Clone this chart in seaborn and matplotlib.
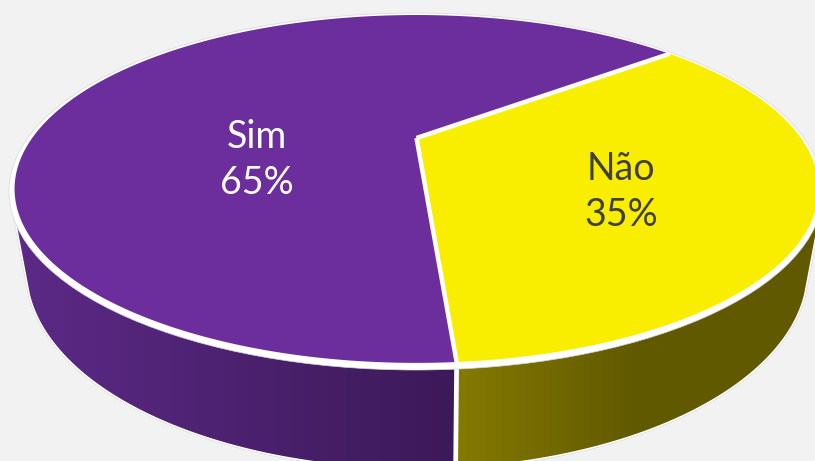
import numpy as np
import matplotlib
matplotlib.use("Agg")
import matplotlib.pyplot as plt
from matplotlib.patches import Ellipse, Polygon
import seaborn as sns

labels = ["Não", "Sim"]
values = [34.6, 65.4]
top_colors = ["#FAEE00", "#6C2E9C"]
text_colors = ["#404040", "#FFFFFF"]
label_pos = [(621, 192), (257, 160)]
wall_stops = [["#857A00", "#605900"], ["#5C2A87", "#3C1958"]]

BG = "#F2F2F2"
START = 38.8
W, H = 815, 461

sns.set_theme(style="white")
plt.rcParams["font.family"] = ["Lato", "DejaVu Sans"]

# perspective disc, fitted to the top face (y px goes down)
CX, CY, A, B, K = 416.5, 138.0, 384.3, 159.0, 0.293


def project(deg):
    t = np.radians(deg)
    u, v = np.cos(t), np.sin(t)
    w = 1 + K * v
    return CX + A * u / w, CY - B * v / w


def arc(d0, d1, n=400):
    return np.column_stack(project(np.linspace(d0, d1, n)))


def ellipse_pts(cx, cy, rx, ry, d0, d1, n=300):
    t = np.radians(np.linspace(d0, d1, n))
    return np.column_stack([cx + rx * np.cos(t), cy - ry * np.sin(t)])


fig, ax = plt.subplots(figsize=(W / 100, H / 100), dpi=100)
fig.patch.set_facecolor(BG)
ax.set_position([0, 0, 1, 1])
ax.set_xlim(0, W)
ax.set_ylim(H, 0)
ax.axis("off")

# slice angles from the data, clockwise from START
angles = [START]
for v in values:
    angles.append(angles[-1] - v / sum(values) * 360)
split_x, split_y = project(angles[1])

# side wall silhouette: bottom rim + straight sides up to the top ellipse
rim = ellipse_pts(417, 270, 390, 198, -7, -173)
right_top, left_top = (821, 205), (13, 205)
wall = np.vstack([[right_top], rim, [left_top]])
ax.add_patch(Polygon(wall, closed=True, fc="none", ec="#CFCFCF", lw=3.0, zorder=1))
ax.add_patch(Polygon(wall, closed=True, fc="white", ec="white", lw=2.4, zorder=1.1))

xs = np.arange(W)
for i, stops in enumerate(wall_stops):
    cmap = sns.blend_palette(stops, as_cmap=True)
    if i == 0:
        grad = np.clip((xs - split_x) / 180, 0, 1)
        part = rim[rim[:, 0] >= split_x]
        poly = np.vstack([[right_top], part, [(split_x, part[-1, 1]), (split_x, 205)]])
    else:
        grad = np.clip((xs - 15) / (split_x - 15), 0, 1)
        part = rim[rim[:, 0] <= split_x]
        poly = np.vstack([[(split_x, 205), (split_x, part[0, 1])], part, [left_top]])
    im = ax.imshow(grad[None, :], cmap=cmap, vmin=0, vmax=1, aspect="auto",
                   extent=(0, W, H, 0), zorder=1.2)
    im.set_clip_path(Polygon(poly, closed=True, transform=ax.transData))

# white divider on the wall
ax.plot([split_x, split_x - 1], [split_y, H + 5], color="white", lw=3.4, zorder=1.5,
        solid_capstyle="butt")

# white disc and coloured wedges on top
ax.add_patch(Ellipse((416, 191.5), 814, 357, fc="white", ec="#D8D8D8", lw=0.5, zorder=2))
for i, c in enumerate(top_colors):
    pts = np.vstack([[(CX, CY)], arc(angles[i], angles[i + 1])])
    ax.add_patch(Polygon(pts, closed=True, fc=c, ec="none", zorder=3))

for d in angles[:2]:
    x, y = project(d)
    ax.plot([CX, x], [CY, y], color="white", lw=3.2, zorder=4, solid_capstyle="butt")

for lab, v, col, (x, y) in zip(labels, values, text_colors, label_pos):
    ax.text(x, y, f"{lab}\n{v:.0f}%", color=col, fontsize=27, ha="center", va="center",
            linespacing=1.33, zorder=5)

fig.savefig("out.png", dpi=100, facecolor=BG)
